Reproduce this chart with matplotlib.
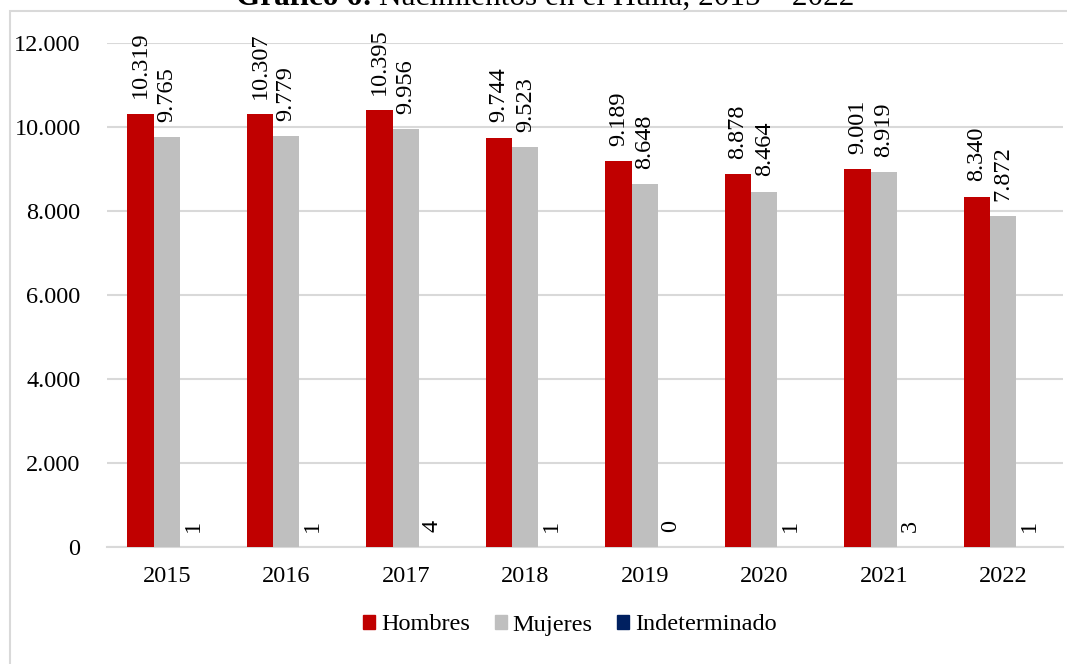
import matplotlib
matplotlib.use("Agg")
import matplotlib.pyplot as plt
import matplotlib.patches as mpatches
from matplotlib.ticker import FuncFormatter
import numpy as np

plt.rcParams['font.family'] = ['Liberation Serif', 'DejaVu Serif']

years = ["2015", "2016", "2017", "2018", "2019", "2020", "2021", "2022"]
hombres = [10319, 10307, 10395, 9744, 9189, 8878, 9001, 8340]
mujeres = [9765, 9779, 9956, 9523, 8648, 8464, 8919, 7872]
indeterminado = [1, 1, 4, 1, 0, 1, 3, 1]

series_names = ["Hombres", "Mujeres", "Indeterminado"]
colors = ["#C00000", "#BFBFBF", "#002060"]

FS = 17.5
TITLE_FS = 22.5


def fmt_thousands(v):
    return f"{v:,.0f}".replace(",", ".")


W, H = 1067, 664
fig = plt.figure(figsize=(W / 100, H / 100), dpi=100)
ax = fig.add_axes([107 / W, 1 - 547 / H, (1063 - 107) / W, (547 - 43) / H])

x = np.arange(len(years))
bw = 0.22
for i, (name, vals, col) in enumerate(zip(series_names, [hombres, mujeres, indeterminado], colors)):
    rects = ax.bar(x + (i - 1) * bw, vals, width=bw, color=col, label=name, zorder=3)
    ax.bar_label(rects, labels=[fmt_thousands(v) for v in vals], rotation=90,
                 padding=11, fontsize=FS, clip_on=False)

ax.set_xlim(-0.5, len(years) - 0.5)
ax.set_ylim(0, 12000)
ax.set_yticks(np.arange(0, 12001, 2000))
ax.yaxis.set_major_formatter(FuncFormatter(lambda v, p: fmt_thousands(v)))
ax.set_xticks(x, years)
ax.tick_params(axis='both', length=0, labelsize=FS)
ax.tick_params(axis='y', pad=19)
ax.tick_params(axis='x', pad=14)
ax.grid(axis='y', color='#D9D9D9', linewidth=1.5, zorder=0)
for s in ['left', 'right', 'top']:
    ax.spines[s].set_visible(False)
ax.spines['bottom'].set_color('#D9D9D9')
ax.spines['bottom'].set_linewidth(1.5)

handles = [mpatches.Patch(color=c, label=n) for n, c in zip(series_names, colors)]
fig.legend(handles=handles, loc='center', bbox_to_anchor=(570 / W, 1 - 625 / H),
           ncol=3, frameon=False, fontsize=FS, handlelength=0.5, handleheight=0.5,
           handletextpad=0.25, columnspacing=1.0)

# outer chart frame (only top and left edges fall inside the picture)
fig.add_artist(mpatches.Rectangle((10 / W, -0.1), 1.2, 1 - 11 / H + 0.1,
                                  transform=fig.transFigure, fill=False,
                                  edgecolor='#D9D9D9', linewidth=1.5))

# title, mostly cut off at the top edge; bold part then regular part
t_bold = fig.text(236 / W, 1 - 5 / H, "Gráfico 6:", fontsize=TITLE_FS, fontweight='bold',
                  ha='left', va='baseline')
fig.canvas.draw()
bb = t_bold.get_window_extent()
fig.text((bb.x1 + 7) / W, 1 - 5 / H, "Nacimientos en el Huila, 2015 – 2022", fontsize=TITLE_FS,
         ha='left', va='baseline')

fig.savefig("out.png", dpi=100)
